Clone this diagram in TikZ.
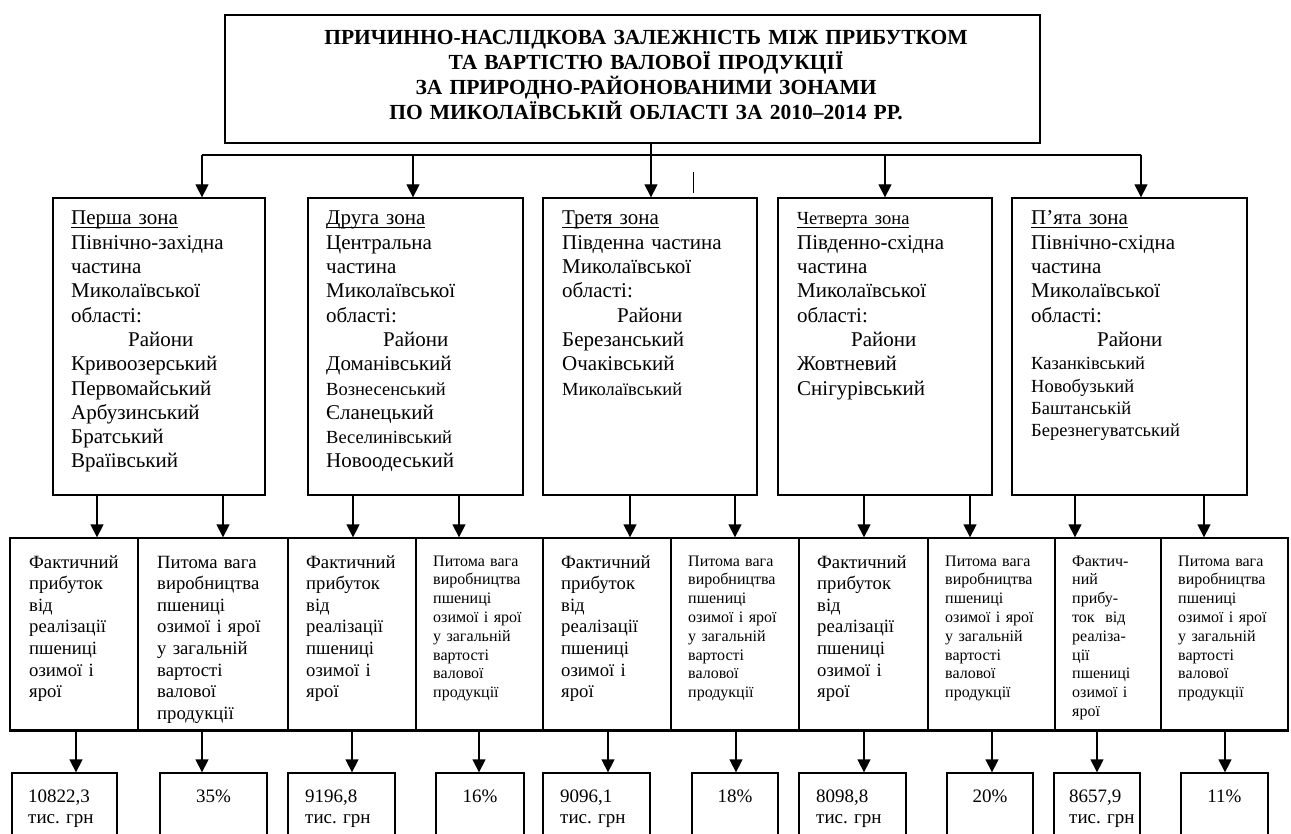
\documentclass[tikz,border=0pt]{standalone}
\usepackage{fontspec}
\setmainfont{Liberation Serif}[BoldFont={Liberation Serif Bold}]
\usetikzlibrary{arrows.meta,fit}
\frenchspacing

\newcommand{\titlefont}{\fontsize{21.5pt}{25pt}\selectfont\bfseries}
\newcommand{\zonefont}{\fontsize{21pt}{24.3pt}\selectfont}
\newcommand{\zonesmall}{\fontsize{18.5pt}{24.3pt}\selectfont}
\newcommand{\rowfont}{\fontsize{18.7pt}{21.6pt}\selectfont}
\newcommand{\rowsmall}{\fontsize{16pt}{18.8pt}\selectfont}
\newcommand{\valfont}{\fontsize{19pt}{21pt}\selectfont}
\newsavebox{\headbox}
\newcommand{\zonehead}[1]{\sbox{\headbox}{#1}\rlap{\rule[-3.5pt]{\wd\headbox}{1.3pt}}\usebox{\headbox}}
\newcommand{\raionline}[1]{\hspace*{#1}Райони}

\begin{document}
\begin{tikzpicture}[x=1pt,y=-1pt,
  box/.style={draw, line width=1.3pt, inner sep=0pt},
  arr/.style={line width=1.3pt, -{Triangle[width=13pt,length=13pt]}},
  ztext/.style={anchor=base west, inner sep=0pt, text width=176pt, align=left, font=\zonefont},
  rtext/.style={anchor=base west, inner sep=0pt, align=left, font=\rowfont},
  stext/.style={anchor=base west, inner sep=0pt, align=left, font=\rowsmall},
  vtext/.style={anchor=base west, inner sep=0pt, text width=90pt, align=left, font=\valfont},
  ptext/.style={anchor=base, inner sep=0pt, font=\valfont}]
  \useasboundingbox (0,0) rectangle (1291,834);
  \clip (0,0) rectangle (1291,834);

  %Title
  \node[box, line width=1.6pt, fit={(225,15) (1040,143)}] (title) {};
  \node[anchor=base, inner sep=0pt, text width=800pt, align=center, font=\titlefont] (titletxt) at (646,44.6)
    {ПРИЧИННО-НАСЛІДКОВА ЗАЛЕЖНІСТЬ МІЖ ПРИБУТКОМ\\ТА ВАРТІСТЮ ВАЛОВОЇ ПРОДУКЦІЇ\\ЗА ПРИРОДНО-РАЙОНОВАНИМИ ЗОНАМИ\\ПО МИКОЛАЇВСЬКІЙ ОБЛАСТІ ЗА 2010--2014 РР.};

  %Zones
  \node[box, fit={(53,198) (265,495)}] (zone1) {};
  \node[box, fit={(308,198) (523,495)}] (zone2) {};
  \node[box, fit={(543,198) (757,495)}] (zone3) {};
  \node[box, fit={(778,198) (992,495)}] (zone4) {};
  \node[box, fit={(1012,198) (1247,495)}] (zone5) {};

  \node[ztext] (zone1txt) at (71,225) {\zonehead{Перша зона}\\Північно-західна\\частина\\Миколаївської\\області:\\\raionline{57pt}\\Кривоозерський\\Первомайський\\Арбузинський\\Братський\\Враїівський};
  \node[ztext] (zone2txt) at (326,225) {\zonehead{Друга зона}\\Центральна\\частина\\Миколаївської\\області:\\\raionline{57pt}\\Доманівський\\{\zonesmall Вознесенський}\\Єланецький\\{\zonesmall Веселинівський}\\Новоодеський};
  \node[ztext] (zone3txt) at (562,225) {\zonehead{Третя зона}\\Південна частина\\Миколаївської\\області:\\\raionline{55pt}\\Березанський\\Очаківський\\{\zonesmall Миколаївський}};
  \node[ztext] (zone4txt) at (797,225) {{\zonesmall\zonehead{Четверта зона}}\\Південно-східна\\частина\\Миколаївської\\області:\\\raionline{54pt}\\Жовтневий\\Снігурівський};
  \node[ztext, text width=196pt] (zone5txt) at (1031,225) {\zonehead{П’ята зона}\\Північно-східна\\частина\\Миколаївської\\області:\\\raionline{66pt}\\[-1pt]{\zonesmall Казанківський}\\[-2pt]{\zonesmall Новобузький}\\[-2pt]{\zonesmall Баштанській}\\[-2pt]{\zonesmall Березнегуватський}};

  %Title to zones
  \draw[line width=1.3pt] (202,155) coordinate (busL) -- (1141,155) coordinate (busR);
  \foreach \x/\z in {202/zone1, 413/zone2, 885/zone4, 1141/zone5}{
    \coordinate (bus\z) at (\x,155);
    \draw[arr] (bus\z) -- (\z.north -| bus\z);
  }
  \draw[arr] (title.south -| 651,0) -- (zone3.north -| 651,0);
  \draw[line width=1pt] (693,172) -- (693,193);

  %Second row
  \foreach \l/\r [count=\i] in {10/138, 138/288, 288/416, 416/543, 543/671, 671/799, 799/928, 928/1055, 1055/1161, 1161/1288}
    \node[box, fit={(\l,538) (\r,730)}] (cell\i) {};
  \draw[line width=2.2pt] (cell1.south west) -- (cell10.south east);

  \node[rtext, text width=115pt] (cell1txt) at (29,568) {Фактичний\\прибуток\\від\\реалізації\\пшениці\\озимої і\\ярої};
  \node[rtext, text width=135pt] (cell2txt) at (157,568) {Питома вага\\виробництва\\пшениці\\озимої і ярої\\у загальній\\вартості\\валової\\продукції};
  \node[rtext, text width=115pt] (cell3txt) at (306,568) {Фактичний\\прибуток\\від\\реалізації\\пшениці\\озимої і\\ярої};
  \node[stext, text width=115pt] (cell4txt) at (433,566) {Питома вага\\виробництва\\пшениці\\озимої і ярої\\у загальній\\вартості\\валової\\продукції};
  \node[rtext, text width=115pt] (cell5txt) at (561,568) {Фактичний\\прибуток\\від\\реалізації\\пшениці\\озимої і\\ярої};
  \node[stext, text width=115pt] (cell6txt) at (688,566) {Питома вага\\виробництва\\пшениці\\озимої і ярої\\у загальній\\вартості\\валової\\продукції};
  \node[rtext, text width=115pt] (cell7txt) at (817,568) {Фактичний\\прибуток\\від\\реалізації\\пшениці\\озимої і\\ярої};
  \node[stext, text width=115pt] (cell8txt) at (945,566) {Питома вага\\виробництва\\пшениці\\озимої і ярої\\у загальній\\вартості\\валової\\продукції};
  \node[stext, text width=95pt] (cell9txt) at (1072,566) {Фактич-\\ний\\прибу-\\ток\ \ від\\реаліза-\\ції\\пшениці\\озимої і\\ярої};
  \node[stext, text width=115pt] (cell10txt) at (1178,566) {Питома вага\\виробництва\\пшениці\\озимої і ярої\\у загальній\\вартості\\валової\\продукції};

  %Values
  \foreach \l/\r [count=\i] in {12/117, 160/267, 288/395, 436/524, 543/650, 692/778, 799/906, 947/1033, 1054/1140, 1181/1268}
    \node[box, fit={(\l,773) (\r,850)}] (val\i) {};

  \node[vtext] (val1txt) at (28,802) {10822,3\\тис. грн};
  \node[ptext] (val2txt) at (val2.north |- 0,802) {35\%};
  \node[vtext] (val3txt) at (305,802) {9196,8\\тис. грн};
  \node[ptext] (val4txt) at (val4.north |- 0,802) {16\%};
  \node[vtext] (val5txt) at (560,802) {9096,1\\тис. грн};
  \node[ptext] (val6txt) at (val6.north |- 0,802) {18\%};
  \node[vtext] (val7txt) at (816,802) {8098,8\\тис. грн};
  \node[ptext] (val8txt) at (val8.north |- 0,802) {20\%};
  \node[vtext] (val9txt) at (1069,802) {8657,9\\тис. грн};
  \node[ptext] (val10txt) at (val10.north |- 0,802) {11\%};

  %Arrows between rows
  \foreach \x/\z/\c in {97/zone1/cell1, 223/zone1/cell2, 353/zone2/cell3, 459/zone2/cell4, 630/zone3/cell5, 735/zone3/cell6, 864/zone4/cell7, 970/zone4/cell8, 1075/zone5/cell9, 1204/zone5/cell10}
    \draw[arr] (\z.south -| \x,0) -- (\c.north -| \x,0);
  \foreach \x/\c/\v in {76/cell1/val1, 202/cell2/val2, 352/cell3/val3, 479/cell4/val4, 608/cell5/val5, 736/cell6/val6, 864/cell7/val7, 992/cell8/val8, 1097/cell9/val9, 1225/cell10/val10}
    \draw[arr] (\c.south -| \x,0) -- (\v.north -| \x,0);
\end{tikzpicture}
\end{document}
